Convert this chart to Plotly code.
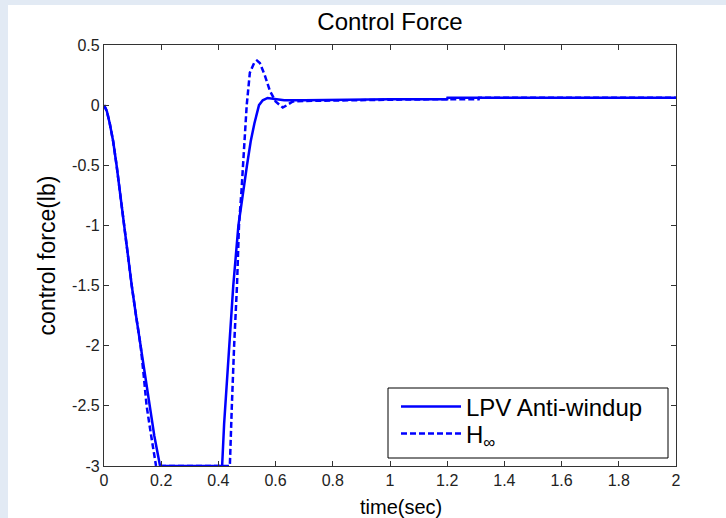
import plotly.graph_objects as go

# LPV Anti-windup (solid)
t_lpv = [0, 0.01, 0.02, 0.032, 0.044, 0.057, 0.07, 0.083, 0.097, 0.112, 0.128, 0.143,
         0.158, 0.176, 0.196, 0.3, 0.413, 0.42, 0.429, 0.44, 0.452, 0.47, 0.487, 0.5,
         0.513, 0.526, 0.542, 0.555, 0.572, 0.59, 0.605, 0.63, 0.7, 0.8, 1.0, 1.2,
         1.201, 1.5, 2.0]
f_lpv = [0, -0.05, -0.15, -0.3, -0.5, -0.75, -1.0, -1.25, -1.5, -1.75, -2.0, -2.25,
         -2.5, -2.75, -3.0, -3.0, -3.0, -2.65, -2.3, -1.9, -1.5, -1.0, -0.7, -0.5,
         -0.3, -0.15, 0.0, 0.04, 0.06, 0.055, 0.045, 0.04, 0.04, 0.045, 0.05, 0.05,
         0.062, 0.062, 0.062]

# H-infinity (dashed)
t_hinf = [0, 0.01, 0.02, 0.032, 0.044, 0.057, 0.07, 0.083, 0.097, 0.112, 0.128, 0.139,
          0.149, 0.165, 0.182, 0.3, 0.44, 0.447, 0.45, 0.455, 0.465, 0.472, 0.481, 0.49,
          0.499, 0.51, 0.525, 0.535, 0.545, 0.562, 0.58, 0.6, 0.625, 0.64, 0.66, 0.7, 0.8,
          1.0, 1.2, 1.31, 1.311, 2.0]
f_hinf = [0, -0.05, -0.15, -0.3, -0.5, -0.75, -1.0, -1.25, -1.5, -1.75, -2.0, -2.25,
          -2.5, -2.75, -3.0, -3.0, -3.0, -2.5, -2.3, -2.0, -1.5, -1.0, -0.7, -0.35,
          0.0, 0.27, 0.35, 0.37, 0.35, 0.25, 0.12, 0.03, -0.02, 0.0, 0.03, 0.035, 0.04,
          0.045, 0.05, 0.05, 0.062, 0.062]

x_ticks = [0, 0.2, 0.4, 0.6, 0.8, 1.0, 1.2, 1.4, 1.6, 1.8, 2.0]
x_ticktext = ["0", "0.2", "0.4", "0.6", "0.8", "1", "1.2", "1.4", "1.6", "1.8", "2"]
y_ticks = [0.5, 0, -0.5, -1, -1.5, -2, -2.5, -3]
y_ticktext = ["0.5", "0", "-0.5", "-1", "-1.5", "-2", "-2.5", "-3"]

FONT = "Liberation Sans, Arial"

fig = go.Figure()
fig.add_trace(go.Scatter(x=t_lpv, y=f_lpv, mode="lines", name="LPV Anti-windup",
                         line=dict(color="#0000FF", width=2.5), legend="legend"))
fig.add_trace(go.Scatter(x=t_hinf, y=f_hinf, mode="lines", name="H<sub>∞</sub>",
                         line=dict(color="#0000FF", width=2.5, dash="6px,3px"),
                         legend="legend2"))

W, H = 726, 518
L, R, T, B = 104, 50, 45, 52
pw, ph = W - L - R, H - T - B

def px_x(p):
    return (p - L) / pw

def px_y(p):
    return (H - B - p) / ph

bg = "#E2EAF4"
fig.add_shape(type="rect", xref="paper", yref="paper", layer="below",
              x0=px_x(-5), x1=px_x(8), y0=px_y(H + 5), y1=px_y(-5),
              fillcolor=bg, line=dict(width=0))
fig.add_shape(type="rect", xref="paper", yref="paper", layer="below",
              x0=px_x(-5), x1=px_x(W + 5), y0=px_y(5), y1=px_y(-5),
              fillcolor=bg, line=dict(width=0))
# legend frame
fig.add_shape(type="rect", xref="paper", yref="paper", layer="above",
              x0=px_x(388), x1=px_x(668), y0=px_y(458), y1=px_y(388),
              fillcolor="rgba(0,0,0,0)", line=dict(color="black", width=1))

# x-axis title placed as an annotation to match the reference position
fig.add_annotation(text="time(sec)", xref="paper", yref="paper",
                   x=px_x(401), y=px_y(507), xanchor="center", yanchor="middle",
                   showarrow=False, font=dict(family=FONT, size=20, color="black"))

axis_common = dict(showline=True, linecolor="#333333", linewidth=1.2, mirror="ticks",
                   ticks="inside", ticklen=5, tickcolor="#333333", showgrid=False,
                   zeroline=False, tickfont=dict(family=FONT, size=16, color="#222222"))
fig.update_xaxes(range=[0, 2], tickvals=x_ticks, ticktext=x_ticktext, **axis_common)
fig.update_yaxes(range=[-3, 0.5], tickvals=y_ticks, ticktext=y_ticktext,
                 title=dict(text="control force(lb)", font=dict(family=FONT, size=23,
                                                                color="black"),
                            standoff=10),
                 **axis_common)

leg_common = dict(xanchor="left", yanchor="middle", borderwidth=0,
                  bgcolor="rgba(255,255,255,0)", itemwidth=60,
                  font=dict(family=FONT, size=24, color="black"))
fig.update_layout(
    width=W, height=H,
    margin=dict(l=L, r=R, t=T, b=B),
    paper_bgcolor="white", plot_bgcolor="white",
    title=dict(text="Control Force", x=(L + pw / 2) / W, xanchor="center",
               y=1 - 22 / H, yanchor="middle",
               font=dict(family=FONT, size=24, color="black")),
    legend=dict(x=px_x(396), y=px_y(407), **leg_common),
    legend2=dict(x=px_x(396), y=px_y(434), **leg_common),
    showlegend=True,
)

fig.write_html("out.html", config={"displayModeBar": False},
               post_script="document.body.style.margin='0';"
                           "document.body.style.background='#E2EAF4';")
